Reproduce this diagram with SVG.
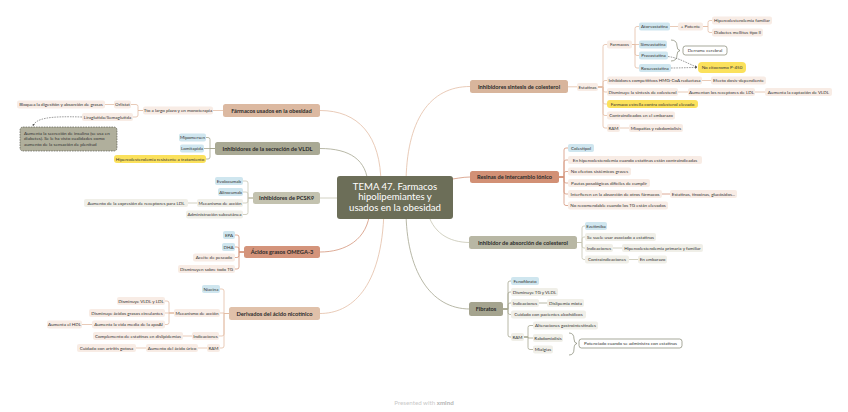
<svg xmlns="http://www.w3.org/2000/svg" width="848" height="412" viewBox="0 0 848 412">
<defs>
<marker id="ah" viewBox="0 0 6 6" refX="5" refY="3" markerWidth="4" markerHeight="4" orient="auto"><path d="M0,0 L6,3 L0,6 z" fill="#555"/></marker>
</defs>
<style>
text{font-family:Lato,"Open Sans","Liberation Sans",sans-serif;text-anchor:middle}
.t{font-size:4.55px;fill:#333333}
.m{font-size:5.7px;font-weight:700;fill:#2a2a2a}
.c{font-size:9.6px;fill:#ffffff}
.pk{fill:#f8ece5}
.gy{fill:#f0efe8}
.bl{fill:#cfe6ef}
.ye{fill:#fbe15c}
.ol{fill:#ffffff;stroke:#6c6e58;stroke-width:0.6}
.ln{fill:none;stroke-width:0.8}
.tan{stroke:#e3bea6}
.olv{stroke:#a6a690}
.gry{stroke:#c6c5b3}
.org{stroke:#d4957b}
.dash{fill:none;stroke:#5a5a5a;stroke-width:0.6;stroke-dasharray:1.6 1}
.brace{fill:none;stroke:#6c6e58;stroke-width:0.6}
</style>
<rect width="848" height="412" fill="#ffffff"/>
<g id="connectors">
<path class="ln tan" d="M320 110.5 C358 110.5 381 135 381 185"/>
<path class="ln olv" d="M320 148.5 C350 148.5 367 160 368 185"/>
<path class="ln gry" d="M320 198 H345"/>
<path class="ln org" d="M320 252 C345 252 368 240 370 210"/>
<path class="ln tan" d="M320 313.5 C350 313.5 382 290 384 210"/>
<path class="ln tan" d="M470 86.5 C430 86.5 406 120 406 185"/>
<path class="ln org" d="M470 177 C462 177 455 179 445 180"/>
<path class="ln gry" d="M470 242.5 C448 242.5 432 232 427 210"/>
<path class="ln olv" d="M470 309 C430 309 406 270 406 210"/>
<path class="ln tan" d="M223 110.5 H213"/>
<path class="ln tan" d="M143 110.5 H138 V106.5 Q138 104.5 136 104.5 H131"/>
<path class="ln tan" d="M143 110.5 H138 V115 Q138 117 136 117 H133"/>
<path class="ln tan" d="M114 104.5 H105"/>
<path class="dash" marker-end="url(#ah)" d="M82 117 C50 116 36 118 33 126"/>
<path class="ln olv" d="M215 148.5 H210 V139.5 Q210 137.5 208 137.5 H206"/>
<path class="ln olv" d="M215 148.5 H204"/>
<path class="ln olv" d="M215 148.5 H210 V157 Q210 159 208 159 H206"/>
<path class="ln gry" d="M253 198 H248 V183 Q248 181 246 181 H243"/>
<path class="ln gry" d="M253 198 H248 V194 Q248 192 246 192 H243"/>
<path class="ln gry" d="M253 198 H248 V201 Q248 203 246 203 H243"/>
<path class="ln gry" d="M253 198 H248 V212.5 Q248 214.5 246 214.5 H243"/>
<path class="ln gry" d="M197 203 H188"/>
<path class="ln org" d="M244 252 H239 V237 Q239 235 237 235 H235"/>
<path class="ln org" d="M244 252 H239 V249 Q239 247 237 247 H235"/>
<path class="ln org" d="M244 252 H239 V255.5 Q239 257.5 237 257.5 H235"/>
<path class="ln org" d="M244 252 H239 V267 Q239 269 237 269 H235"/>
<path class="ln tan" d="M229 313.5 H224 V291 Q224 289 222 289 H220"/>
<path class="ln tan" d="M229 313.5 H224 V313 H220"/>
<path class="ln tan" d="M229 313.5 H224 V334 Q224 336 222 336 H219"/>
<path class="ln tan" d="M229 313.5 H224 V346 Q224 348 222 348 H220"/>
<path class="ln tan" d="M174 313 H169 V303 Q169 301 167 301 H165"/>
<path class="ln tan" d="M174 313 H165"/>
<path class="ln tan" d="M174 313 H169 V322.5 Q169 324.5 167 324.5 H165"/>
<path class="ln tan" d="M92 324.5 H82"/>
<path class="ln tan" d="M192 336 H183"/>
<path class="ln tan" d="M207 348 H198"/>
<path class="ln tan" d="M146 348 H136"/>
<path class="ln tan" d="M568 86.8 H577"/>
<path class="ln tan" d="M598 87 H603 V46.5 Q603 44.5 605 44.5 H607"/>
<path class="ln tan" d="M598 87 H603 V82.5 Q603 80.5 605 80.5 H607"/>
<path class="ln tan" d="M598 87 H603 V90 Q603 92 605 92 H607"/>
<path class="ln tan" d="M598 87 H603 V102 Q603 104 605 104 H607"/>
<path class="ln tan" d="M598 87 H603 V113.5 Q603 115.5 605 115.5 H607"/>
<path class="ln tan" d="M598 87 H603 V126 Q603 128 605 128 H607"/>
<path class="ln tan" d="M632 44.5 H635 V28.5 Q635 26.5 637 26.5 H639"/>
<path class="ln tan" d="M632 44.5 H639"/>
<path class="ln tan" d="M632 44.5 H635 V53.5 Q635 55.5 637 55.5 H639"/>
<path class="ln tan" d="M632 44.5 H635 V66 Q635 68 637 68 H639"/>
<path class="ln tan" d="M670 26.5 H678"/>
<path class="ln tan" d="M703 26.5 H708 V22.5 Q708 20.5 710 20.5 H712"/>
<path class="ln tan" d="M703 26.5 H708 V30.5 Q708 32.5 710 32.5 H712"/>
<path class="ln tan" d="M702 80.5 H711"/>
<path class="ln tan" d="M678 92 H688"/>
<path class="ln tan" d="M755 92 H765"/>
<path class="ln tan" d="M620 128 H629"/>
<path class="brace" d="M671 40 Q677 40 677 46 Q677 50 680 50.5 Q677 51 677 55 Q677 61 671 61"/>
<path class="dash" marker-end="url(#ah)" d="M668 56.5 C680 58 688 64 697 67"/>
<path class="dash" marker-end="url(#ah)" d="M671 68 C680 68 688 67.5 697 67.5"/>
<path class="ln org" d="M559 177 H564 V150 Q564 148 566 148 H568"/>
<path class="ln org" d="M559 177 H564 V162 Q564 160 566 160 H568"/>
<path class="ln org" d="M559 177 H564 V173.5 Q564 171.5 566 171.5 H568"/>
<path class="ln org" d="M559 177 H564 V181 Q564 183 566 183 H568"/>
<path class="ln org" d="M559 177 H564 V192 Q564 194 566 194 H568"/>
<path class="ln org" d="M559 177 H564 V203.5 Q564 205.5 566 205.5 H568"/>
<path class="ln org" d="M662 194 H670"/>
<path class="ln gry" d="M577 242.5 H582 V228 Q582 226 584 226 H585"/>
<path class="ln gry" d="M577 242.5 H582 V239 Q582 237 584 237 H585"/>
<path class="ln gry" d="M577 242.5 H582 V246 Q582 248 584 248 H585"/>
<path class="ln gry" d="M577 242.5 H582 V257.5 Q582 259.5 584 259.5 H585"/>
<path class="ln gry" d="M613 248 H622"/>
<path class="ln gry" d="M629 259.5 H638"/>
<path class="ln olv" d="M503 309 H508 V283 Q508 281 510 281 H511"/>
<path class="ln olv" d="M503 309 H508 V294 Q508 292 510 292 H511"/>
<path class="ln olv" d="M503 309 H508 V305 Q508 303 510 303 H511"/>
<path class="ln olv" d="M503 309 H508 V312.5 Q508 314.5 510 314.5 H511"/>
<path class="ln olv" d="M503 309 H508 V335 Q508 337 510 337 H511"/>
<path class="ln olv" d="M539 303 H547"/>
<path class="ln olv" d="M524 337 H528 V327.5 Q528 325.5 530 325.5 H533"/>
<path class="ln olv" d="M524 337 H528 V338 H533"/>
<path class="ln olv" d="M524 337 H528 V347.5 Q528 349.5 530 349.5 H533"/>
<path class="brace" d="M569 333 Q574 333 574 339 Q574 343 577 343.5 Q574 344 574 349 Q574 355 569 355"/>
</g>

<g id="center"><rect x="337" y="176" width="116" height="43" rx="3" fill="#6c6e58"/>
<text class="c" x="395" y="189.5">TEMA 47. Farmacos</text>
<text class="c" x="395" y="200.3">hipolipemiantes y</text>
<text class="c" x="395" y="211">usados en la obesidad</text></g>

<g id="n1"><rect x="223" y="104" width="97" height="13" rx="2.5" fill="#dcb9a1"/><text class="m" x="271.5" y="112.5">Fármacos usados en la obesidad</text></g>
<g id="n1a"><rect class="pk" x="143" y="106.5" width="70" height="8" rx="2"/><text class="t" x="178" y="112">Tto a largo plazo y en monoterapia</text></g>
<g id="n1b"><rect class="pk" x="114" y="100.5" width="17" height="8" rx="2"/><text class="t" x="122.5" y="106">Orlistat</text></g>
<g id="n1c"><rect class="pk" x="17" y="100.5" width="88" height="8" rx="2"/><text class="t" x="61" y="106">Bloquea la digestión y absorción de grasas</text></g>
<g id="n1d"><rect class="pk" x="82" y="113" width="51" height="8" rx="2"/><text class="t" x="107.5" y="118.5">Liraglutida/Semaglutida</text></g>
<g id="note"><rect x="20" y="127" width="97" height="24" rx="3" fill="#b0af9c" stroke="#4a4a40" stroke-width="0.6" stroke-dasharray="1.6 1"/>
<text class="t" style="text-anchor:start" x="24" y="135.3">Aumenta la secreción de insulina (se usa en</text>
<text class="t" style="text-anchor:start" x="24" y="140.4">diabetes). Se le ha visto cualidades como</text>
<text class="t" style="text-anchor:start" x="24" y="145.5">aumento de la sensación de plenitud</text></g>

<g id="n2"><rect x="215" y="142" width="105" height="13" rx="2.5" fill="#a9a994"/><text class="m" x="267.5" y="150.5">Inhibidores de la secreción de VLDL</text></g>
<g id="n2a"><rect class="bl" x="179" y="133.5" width="27" height="8" rx="2"/><text class="t" x="192.5" y="139">Mipomersen</text></g>
<g id="n2b"><rect class="bl" x="180" y="144.5" width="24" height="8" rx="2"/><text class="t" x="192" y="150">Lomitapida</text></g>
<g id="n2c"><rect class="ye" x="114" y="155" width="92" height="8" rx="3"/><text class="t" x="160" y="160.5">Hipercolesterolemia resistente a tratamiento</text></g>

<g id="n3"><rect x="253" y="192" width="67" height="12" rx="2.5" fill="#c3c2af"/><text class="m" x="286.5" y="200">Inhibidores de PCSK9</text></g>
<g id="n3a"><rect class="bl" x="215" y="177" width="28" height="8" rx="2"/><text class="t" x="229" y="182.5">Evolocumab</text></g>
<g id="n3b"><rect class="bl" x="218" y="188" width="25" height="8" rx="2"/><text class="t" x="230.5" y="193.5">Alirocumab</text></g>
<g id="n3c"><rect class="gy" x="197" y="199" width="46" height="8" rx="2"/><text class="t" x="220" y="204.5">Mecanismo de acción</text></g>
<g id="n3d"><rect class="gy" x="84" y="199" width="104" height="8" rx="2"/><text class="t" x="136" y="204.5">Aumento de la expresión de receptores para LDL</text></g>
<g id="n3e"><rect class="gy" x="186" y="210.5" width="57" height="8" rx="2"/><text class="t" x="214.5" y="216">Administración subcutánea</text></g>

<g id="n4"><rect x="244" y="246" width="76" height="12" rx="2.5" fill="#d4947b"/><text class="m" x="282" y="254">Ácidos grasos OMEGA-3</text></g>
<g id="n4a"><rect class="bl" x="223" y="231" width="12" height="8" rx="2"/><text class="t" x="229" y="236.5">EPA</text></g>
<g id="n4b"><rect class="bl" x="222" y="243" width="13" height="8" rx="2"/><text class="t" x="228.5" y="248.5">DHA</text></g>
<g id="n4c"><rect class="pk" x="193" y="253.5" width="42" height="8" rx="2"/><text class="t" x="214" y="259">Aceite de pescado</text></g>
<g id="n4d"><rect class="pk" x="178" y="265" width="57" height="8" rx="2"/><text class="t" x="206.5" y="270.5">Disminuyen sobre todo TG</text></g>

<g id="n5"><rect x="229" y="307" width="91" height="13" rx="2.5" fill="#e0c1aa"/><text class="m" x="274.5" y="315.5">Derivados del ácido nicotínico</text></g>
<g id="n5a"><rect class="bl" x="202" y="285" width="18" height="8" rx="2"/><text class="t" x="211" y="290.5">Niacina</text></g>
<g id="n5b"><rect class="pk" x="174" y="309" width="46" height="8" rx="2"/><text class="t" x="197" y="314.5">Mecanismo de acción</text></g>
<g id="n5c"><rect class="pk" x="117" y="297" width="48" height="8" rx="2"/><text class="t" x="141" y="302.5">Disminuye VLDL y LDL</text></g>
<g id="n5d"><rect class="pk" x="89" y="309" width="76" height="8" rx="2"/><text class="t" x="127" y="314.5">Disminuye ácidos grasos circulantes</text></g>
<g id="n5e"><rect class="pk" x="92" y="320.5" width="73" height="8" rx="2"/><text class="t" x="128.5" y="326">Aumenta la vida media de la apoAI</text></g>
<g id="n5f"><rect class="pk" x="47" y="320.5" width="35" height="8" rx="2"/><text class="t" x="64.5" y="326">Aumenta el HDL</text></g>
<g id="n5g"><rect class="pk" x="192" y="332" width="27" height="8" rx="2"/><text class="t" x="205.5" y="337.5">Indicaciones</text></g>
<g id="n5h"><rect class="pk" x="93" y="332" width="90" height="8" rx="2"/><text class="t" x="138" y="337.5">Complemento de estatinas en dislipidemias</text></g>
<g id="n5i"><rect class="pk" x="207" y="344" width="13" height="8" rx="2"/><text class="t" x="213.5" y="349.5">RAM</text></g>
<g id="n5j"><rect class="pk" x="146" y="344" width="52" height="8" rx="2"/><text class="t" x="172" y="349.5">Aumento del ácido úrico</text></g>
<g id="n5k"><rect class="pk" x="77" y="344" width="59" height="8" rx="2"/><text class="t" x="106.5" y="349.5">Cuidado con artritis gotosa</text></g>

<g id="n6"><rect x="470" y="80" width="98" height="13" rx="2.5" fill="#d8b59c"/><text class="m" x="519" y="88.5">Inhibidores sintesis de colesterol</text></g>
<g id="n6a"><rect class="pk" x="577" y="83" width="21" height="8" rx="2"/><text class="t" x="587.5" y="88.5">Estatinas</text></g>
<g id="n6b"><rect class="pk" x="607" y="40.5" width="25" height="8" rx="2"/><text class="t" x="619.5" y="46">Farmacos</text></g>
<g id="n6c"><rect class="bl" x="639" y="22.5" width="31" height="8" rx="2"/><text class="t" x="654.5" y="28">Atorvastatina</text></g>
<g id="n6d"><rect class="pk" x="678" y="22.5" width="25" height="8" rx="2"/><text class="t" x="690.5" y="28">+ Potente</text></g>
<g id="n6e"><rect class="pk" x="712" y="16.5" width="60" height="8" rx="2"/><text class="t" x="742" y="22">Hipercolesterolemia familiar</text></g>
<g id="n6f"><rect class="pk" x="712" y="28.5" width="51" height="8" rx="2"/><text class="t" x="737.5" y="34">Diabetes mellitus tipo II</text></g>
<g id="n6g"><rect class="bl" x="639" y="40.5" width="28" height="8" rx="2"/><text class="t" x="653" y="46">Simvastatina</text></g>
<g id="n6h"><rect class="bl" x="639" y="51.5" width="29" height="8" rx="2"/><text class="t" x="653.5" y="57">Pravastatina</text></g>
<g id="n6i"><rect class="bl" x="639" y="64" width="32" height="8" rx="2"/><text class="t" x="655" y="69.5">Rosuvastatina</text></g>
<g id="n6j"><rect class="ol" x="683" y="46" width="44" height="9" rx="2.5"/><text class="t" x="705" y="52">Derrame cerebral</text></g>
<g id="n6k"><rect class="ye" x="698" y="62" width="48" height="11" rx="4"/><text class="t" x="722" y="69">No citocromo P-450</text></g>
<g id="n6l"><rect class="pk" x="607" y="76.5" width="95" height="8" rx="2"/><text class="t" x="654.5" y="82">Inhibidores competitivos HMG-CoA reductasa</text></g>
<g id="n6m"><rect class="pk" x="711" y="76.5" width="55" height="8" rx="2"/><text class="t" x="738.5" y="82">Efecto dosis-dependiente</text></g>
<g id="n6n"><rect class="pk" x="607" y="88" width="71" height="8" rx="2"/><text class="t" x="642.5" y="93.5">Disminuye la síntesis de colesterol</text></g>
<g id="n6o"><rect class="pk" x="688" y="88" width="67" height="8" rx="2"/><text class="t" x="721.5" y="93.5">Aumentan los receptores de LDL</text></g>
<g id="n6p"><rect class="pk" x="765" y="88" width="67" height="8" rx="2"/><text class="t" x="798.5" y="93.5">Aumenta la captación de VLDL</text></g>
<g id="n6q"><rect class="ye" x="607" y="100" width="91" height="8" rx="3"/><text class="t" x="652.5" y="105.5">Farmaco estrella contra colesterol elevado</text></g>
<g id="n6r"><rect class="pk" x="607" y="111.5" width="68" height="8" rx="2"/><text class="t" x="641" y="117">Contraindicados en el embarazo</text></g>
<g id="n6s"><rect class="pk" x="607" y="124" width="13" height="8" rx="2"/><text class="t" x="613.5" y="129.5">RAM</text></g>
<g id="n6t"><rect class="pk" x="629" y="124" width="54" height="8" rx="2"/><text class="t" x="656" y="129.5">Miopatías y rabdomiolisis</text></g>

<g id="n7"><rect x="470" y="171" width="89" height="12" rx="2.5" fill="#d29075"/><text class="m" x="514.5" y="179">Resinas de intercambio iónico</text></g>
<g id="n7a"><rect class="bl" x="568" y="144" width="26" height="8" rx="2"/><text class="t" x="581" y="149.5">Colestipol</text></g>
<g id="n7b"><rect class="pk" x="568" y="156" width="134" height="8" rx="2"/><text class="t" x="635" y="161.5">En hipercolesterolemia cuando estatinas están contraindicadas</text></g>
<g id="n7c"><rect class="pk" x="568" y="167.5" width="63" height="8" rx="2"/><text class="t" x="599.5" y="173">No efectos sistémicos graves</text></g>
<g id="n7d"><rect class="pk" x="568" y="179" width="82" height="8" rx="2"/><text class="t" x="609" y="184.5">Pautas posológicas difíciles de cumplir</text></g>
<g id="n7e"><rect class="pk" x="568" y="190" width="94" height="8" rx="2"/><text class="t" x="615" y="195.5">Interfieren en la absorción de otros fármacos</text></g>
<g id="n7f"><rect class="pk" x="670" y="190" width="67" height="8" rx="2"/><text class="t" x="703.5" y="195.5">Estatinas, tiroxinas, glucósidos...</text></g>
<g id="n7g"><rect class="pk" x="568" y="201.5" width="100" height="8" rx="2"/><text class="t" x="618" y="207">No recomendable cuando los TG están elevados</text></g>

<g id="n8"><rect x="469" y="236" width="108" height="13" rx="2.5" fill="#b8b7a4"/><text class="m" x="523" y="244.5">Inhibidor de absorción de colesterol</text></g>
<g id="n8a"><rect class="bl" x="585" y="222" width="22" height="8" rx="2"/><text class="t" x="596" y="227.5">Ezetimiba</text></g>
<g id="n8b"><rect class="gy" x="585" y="233" width="71" height="8" rx="2"/><text class="t" x="620.5" y="238.5">Se suele usar asociado a estatinas</text></g>
<g id="n8c"><rect class="gy" x="585" y="244" width="28" height="8" rx="2"/><text class="t" x="599" y="249.5">Indicaciones</text></g>
<g id="n8d"><rect class="gy" x="622" y="244" width="81" height="8" rx="2"/><text class="t" x="662.5" y="249.5">Hipercolesterolemia primaria y familiar</text></g>
<g id="n8e"><rect class="gy" x="585" y="255.5" width="44" height="8" rx="2"/><text class="t" x="607" y="261">Contraindicaciones</text></g>
<g id="n8f"><rect class="gy" x="638" y="255.5" width="29" height="8" rx="2"/><text class="t" x="652.5" y="261">En embarazo</text></g>

<g id="n9"><rect x="469" y="302" width="34" height="14" rx="2.5" fill="#a5a48f"/><text class="m" x="486" y="311">Fibratos</text></g>
<g id="n9a"><rect class="bl" x="511" y="277" width="28" height="8" rx="2"/><text class="t" x="525" y="282.5">Fenofibrato</text></g>
<g id="n9b"><rect class="gy" x="511" y="288" width="47" height="8" rx="2"/><text class="t" x="534.5" y="293.5">Disminuye TG y VLDL</text></g>
<g id="n9c"><rect class="gy" x="511" y="299" width="28" height="8" rx="2"/><text class="t" x="525" y="304.5">Indicaciones</text></g>
<g id="n9d"><rect class="gy" x="547" y="299" width="37" height="8" rx="2"/><text class="t" x="565.5" y="304.5">Dislipemia mixta</text></g>
<g id="n9e"><rect class="gy" x="511" y="310.5" width="75" height="8" rx="2"/><text class="t" x="548.5" y="316">Cuidado con pacientes alcohólicos</text></g>
<g id="n9f"><rect class="gy" x="511" y="333" width="13" height="8" rx="2"/><text class="t" x="517.5" y="338.5">RAM</text></g>
<g id="n9g"><rect class="gy" x="533" y="321.5" width="65" height="8" rx="2"/><text class="t" x="565.5" y="327">Alteraciones gastrointestinales</text></g>
<g id="n9h"><rect class="gy" x="533" y="334" width="30" height="8" rx="2"/><text class="t" x="548" y="339.5">Rabdomiolisis</text></g>
<g id="n9i"><rect class="gy" x="533" y="345.5" width="20" height="8" rx="2"/><text class="t" x="543" y="351">Mialgias</text></g>
<g id="n9j"><rect class="ol" x="579" y="339" width="103" height="9" rx="2.5"/><text class="t" x="630.5" y="345">Potenciado cuando se administra con estatinas</text></g>

<g id="footer"><text x="424" y="405" style="font-size:6.2px;fill:#c9c9c9">Presented with <tspan style="font-weight:700;fill:#b4b4b4">xmind</tspan></text></g>
</svg>
